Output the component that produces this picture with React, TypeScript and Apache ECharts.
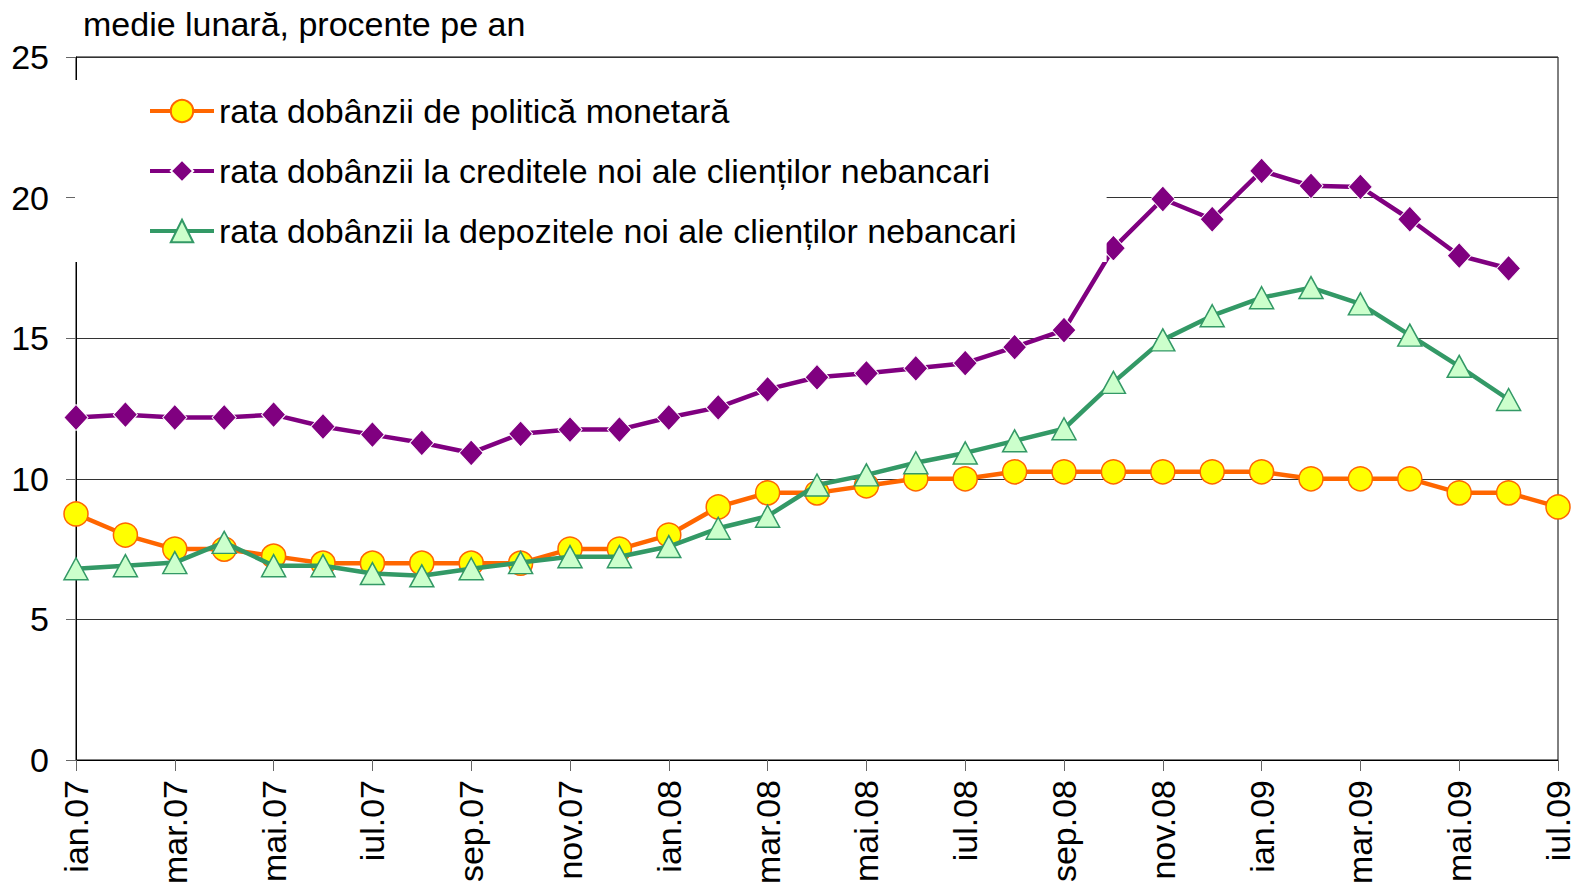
import React, { useEffect, useRef } from "react";
import * as echarts from "echarts";

const months: string[] = [
  "ian.07", "feb.07", "mar.07", "apr.07", "mai.07", "iun.07", "iul.07", "aug.07", "sep.07", "oct.07", "nov.07", "dec.07",
  "ian.08", "feb.08", "mar.08", "apr.08", "mai.08", "iun.08", "iul.08", "aug.08", "sep.08", "oct.08", "nov.08", "dec.08",
  "ian.09", "feb.09", "mar.09", "apr.09", "mai.09", "iun.09", "iul.09",
];

const seriesNames: string[] = [
  "rata dobânzii de politică monetară",
  "rata dobânzii la creditele noi ale clienților nebancari",
  "rata dobânzii la depozitele noi ale clienților nebancari",
];

const policyRate: number[] = [
  8.75, 8.0, 7.5, 7.5, 7.25, 7.0, 7.0, 7.0, 7.0, 7.0, 7.5, 7.5,
  8.0, 9.0, 9.5, 9.5, 9.75, 10.0, 10.0, 10.25, 10.25, 10.25, 10.25, 10.25,
  10.25, 10.0, 10.0, 10.0, 9.5, 9.5, 9.0,
];

const loanRate: number[] = [
  12.18, 12.28, 12.18, 12.18, 12.28, 11.86, 11.57, 11.28, 10.92, 11.6, 11.75, 11.75,
  12.18, 12.54, 13.18, 13.61, 13.75, 13.93, 14.11, 14.68, 15.29, 18.2, 19.95, 19.23,
  20.95, 20.42, 20.38, 19.23, 17.94, 17.48,
];

const depositRate: number[] = [
  6.8, 6.91, 7.02, 7.74, 6.91, 6.91, 6.63, 6.55, 6.8, 7.02, 7.23, 7.23,
  7.59, 8.24, 8.67, 9.78, 10.14, 10.57, 10.92, 11.35, 11.78, 13.43, 14.94, 15.8,
  16.44, 16.8, 16.22, 15.11, 14.0, 12.82,
];

const yTicks = { min: 0, max: 25, interval: 5 };
const titleText = "medie lunară, procente pe an";

const FONT = "'Liberation Sans', Arial, sans-serif";
const FS = 34;

export default function App() {
  const ref = useRef<HTMLDivElement>(null);
  useEffect(() => {
    if (!ref.current) return;
    const chart = echarts.init(ref.current, null, { renderer: "svg" });
    chart.setOption({
      animation: false,
      backgroundColor: "#fff",
      textStyle: { fontFamily: FONT },
      title: {
        text: titleText,
        left: 78,
        top: 2,
        textStyle: { fontFamily: FONT, fontSize: FS, fontWeight: "normal", color: "#000" },
      },
      grid: {
        left: 76,
        right: 21,
        top: 57,
        bottom: 133,
        show: true,
        borderColor: "#000",
        borderWidth: 1,
        backgroundColor: "transparent",
      },
      legend: {
        orient: "vertical",
        left: 75,
        top: 80,
        padding: [13, 90, 13, 73],
        backgroundColor: "#fff",
        itemWidth: 64,
        itemHeight: 28,
        itemGap: 24,
        selectedMode: false,
        lineStyle: { width: 4 },
        textStyle: { fontFamily: FONT, fontSize: FS, color: "#000", lineHeight: 36 },
        data: seriesNames,
      },
      xAxis: {
        type: "category",
        data: months,
        boundaryGap: false,
        axisLine: { lineStyle: { color: "#000", width: 1 } },
        axisTick: { show: true, interval: 1, length: 11, lineStyle: { color: "#666" } },
        axisLabel: {
          interval: 1,
          rotate: 90,
          margin: 20,
          fontFamily: FONT,
          fontSize: FS,
          color: "#000",
        },
        splitLine: { show: false },
      },
      yAxis: {
        type: "value",
        min: yTicks.min,
        max: yTicks.max,
        interval: yTicks.interval,
        axisLine: { show: true, lineStyle: { color: "#000", width: 1 } },
        axisTick: { show: true, length: 10, lineStyle: { color: "#666" } },
        axisLabel: { margin: 27, fontFamily: FONT, fontSize: FS, color: "#000" },
        splitLine: { show: true, lineStyle: { color: "#333", width: 1 } },
      },
      series: [
        {
          name: seriesNames[0],
          type: "line",
          data: policyRate,
          symbol: "circle",
          symbolSize: 24,
          lineStyle: { color: "#FF6600", width: 4.5 },
          itemStyle: { color: "#FFFF00", borderColor: "#FF6600", borderWidth: 1.5 },
          z: 2,
        },
        {
          name: seriesNames[1],
          type: "line",
          data: loanRate,
          symbol: "diamond",
          symbolSize: [24, 26],
          lineStyle: { color: "#800080", width: 4.5 },
          itemStyle: { color: "#800080", borderColor: "#fff", borderWidth: 1 },
          z: 3,
        },
        {
          name: seriesNames[2],
          type: "line",
          data: depositRate,
          symbol: "triangle",
          symbolSize: [24, 22],
          lineStyle: { color: "#339966", width: 4.5 },
          itemStyle: { color: "#CCFFCC", borderColor: "#339966", borderWidth: 1.5 },
          z: 4,
        },
      ],
    });
    return () => chart.dispose();
  }, []);
  return (
    <div
      ref={ref}
      style={{ position: "absolute", left: 0, top: 0, width: 1579, height: 893 }}
    />
  );
}
